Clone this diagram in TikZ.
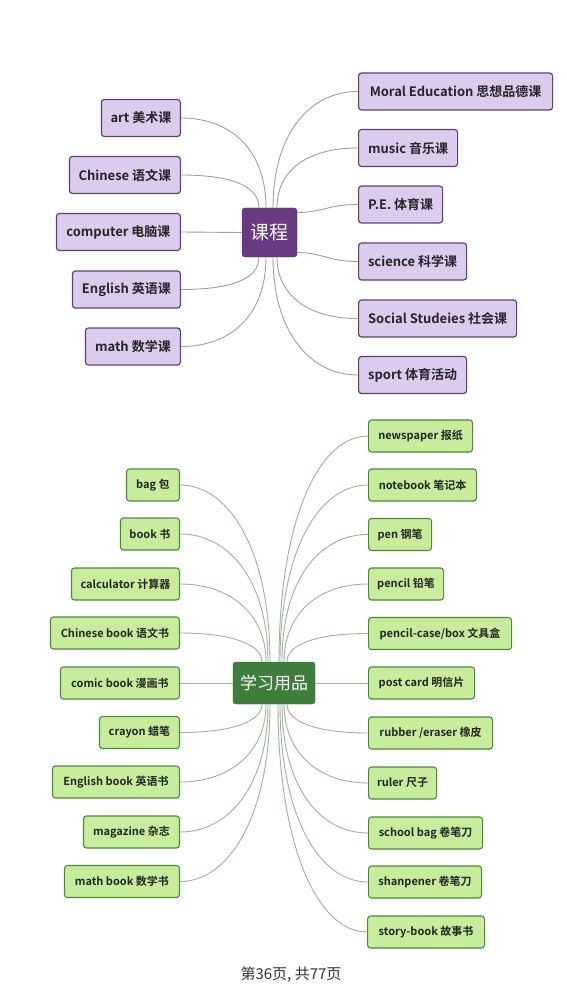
\documentclass[tikz,border=0pt]{standalone}
\usepackage{fontspec}
\newfontfamily\cjk{Noto Sans CJK SC}[BoldFont={Noto Sans CJK SC Bold}]
\usetikzlibrary{calc}
\definecolor{pfill}{HTML}{DCCBEC}
\definecolor{pdraw}{HTML}{5B4272}
\definecolor{pcent}{HTML}{673A82}
\definecolor{gfill}{HTML}{C6EC9C}
\definecolor{gdraw}{HTML}{4C8A3E}
\definecolor{gcent}{HTML}{3F7D3C}
\definecolor{lgray}{HTML}{A0A0A0}
\definecolor{lgreen}{HTML}{9CB29C}
\tikzset{
  pbox/.style={draw=pdraw,fill=pfill,line width=1.2pt,rounded corners=3pt,minimum height=37pt,inner sep=0pt,font=\cjk\bfseries\fontsize{13}{15}\selectfont,text=black!85},
  gbox/.style={draw=gdraw,fill=gfill,line width=1.1pt,rounded corners=3pt,minimum height=32pt,inner sep=0pt,font=\cjk\bfseries\fontsize{11}{13}\selectfont,text=black!85},
  conn/.style={draw=lgray,line width=0.9pt},
  gconn/.style={draw=lgreen,line width=0.9pt},
}
\newcommand\mmlink[6]{\draw[#1] (#2) .. controls +(#3) and +(#4) .. ($(#5)+(#6)$);}
\begin{document}
\begin{tikzpicture}[x=1pt,y=-1pt]
\useasboundingbox[fill=white] (0,0) rectangle (566,1008);
% ---- top mind map
\node[fill=pcent,draw=pcent!80!black,rounded corners=3pt,minimum width=55pt,minimum height=49pt,inner sep=0pt,text=white,font=\cjk\fontsize{19}{21}\selectfont] (k) at (269.5,232.5) {课程};
\node[pbox,anchor=east,minimum width=79pt] (art) at (181,118) {art 美术课};
\node[pbox,anchor=east,minimum width=111pt] (chi) at (181,175) {Chinese 语文课};
\node[pbox,anchor=east,minimum width=124pt] (com) at (181,232) {computer 电脑课};
\node[pbox,anchor=east,minimum width=108pt] (eng) at (181,289.5) {English 英语课};
\node[pbox,anchor=east,minimum width=95pt] (mat) at (181,346.5) {math 数学课};
\node[pbox,anchor=west,minimum width=194pt] (mor) at (358,91.5) {Moral Education 思想品德课};
\node[pbox,anchor=west,minimum width=99pt] (mus) at (358,148) {music 音乐课};
\node[pbox,anchor=west,minimum width=84pt] (pe) at (358,204.5) {P.E. 体育课};
\node[pbox,anchor=west,minimum width=108pt] (sci) at (358,261.5) {science 科学课};
\node[pbox,anchor=west,minimum width=158pt] (soc) at (358,318.5) {Social Studeies 社会课};
\node[pbox,anchor=west,minimum width=108pt] (spo) at (358,375) {sport 体育活动};
\mmlink{conn}{art.east}{50,0}{0,-58}{k.north}{-3.5,0}
\mmlink{conn}{chi.east}{50,0}{0,-22}{k.north}{-10.5,0}
\draw[conn] (com.east) -- (k.west);
\mmlink{conn}{eng.east}{50,0}{0,22}{k.south}{-10.5,0}
\mmlink{conn}{mat.east}{50,0}{0,58}{k.south}{-3.5,0}
\mmlink{conn}{mor.west}{-50,0}{0,-72}{k.north}{3.5,0}
\mmlink{conn}{mus.west}{-50,0}{0,-38}{k.north}{7.5,0}
\mmlink{conn}{pe.west}{-30,0}{25,0}{k.east}{0,-20}
\mmlink{conn}{sci.west}{-30,0}{25,0}{k.east}{0,20}
\mmlink{conn}{soc.west}{-50,0}{0,38}{k.south}{7.5,0}
\mmlink{conn}{spo.west}{-50,0}{0,72}{k.south}{3.5,0}
% ---- bottom mind map
\node[fill=gcent,draw=gcent!80!black,rounded corners=3pt,minimum width=82pt,minimum height=42pt,inner sep=0pt,text=white,font=\cjk\fontsize{17}{19}\selectfont] (g) at (274,683) {学习用品};
\node[gbox,anchor=east,minimum width=53pt] (bag) at (180,485) {bag 包};
\node[gbox,anchor=east,minimum width=59pt] (boo) at (180,534) {book 书};
\node[gbox,anchor=east,minimum width=108pt] (cal) at (180,584) {calculator 计算器};
\node[gbox,anchor=east,minimum width=129pt] (chb) at (180,633) {Chinese book 语文书};
\node[gbox,anchor=east,minimum width=119pt] (cob) at (180,683) {comic book 漫画书};
\node[gbox,anchor=east,minimum width=80pt] (cra) at (180,732.5) {crayon 蜡笔};
\node[gbox,anchor=east,minimum width=127pt] (enb) at (180,782) {English book 英语书};
\node[gbox,anchor=east,minimum width=96pt] (mag) at (180,832) {magazine 杂志};
\node[gbox,anchor=east,minimum width=115pt] (mab) at (180,881.5) {math book 数学书};
\node[gbox,anchor=west,minimum width=104pt] (new) at (368,436) {newspaper 报纸};
\node[gbox,anchor=west,minimum width=108pt] (not) at (368,485) {notebook 笔记本};
\node[gbox,anchor=west,minimum width=63pt] (pen) at (368,534.5) {pen 钢笔};
\node[gbox,anchor=west,minimum width=75pt] (pec) at (368,584) {pencil 铅笔};
\node[gbox,anchor=west,minimum width=143pt] (pcb) at (368,633.5) {pencil-case/box 文具盒};
\node[gbox,anchor=west,minimum width=106pt] (pos) at (368,683) {post card 明信片};
\node[gbox,anchor=west,minimum width=124pt] (rub) at (368,733) {rubber /eraser 橡皮};
\node[gbox,anchor=west,minimum width=68pt] (rul) at (368,783) {ruler 尺子};
\node[gbox,anchor=west,minimum width=114pt] (scb) at (368,833) {school bag 卷笔刀};
\node[gbox,anchor=west,minimum width=113pt] (sha) at (368,882) {shanpener 卷笔刀};
\node[gbox,anchor=west,minimum width=117pt] (sto) at (367,932) {story-book 故事书};
\mmlink{gconn}{bag.east}{50,0}{0,-110}{g.north}{-4,0}
\mmlink{gconn}{boo.east}{50,0}{0,-80}{g.north}{-6,0}
\mmlink{gconn}{cal.east}{50,0}{0,-48}{g.north}{-8,0}
\mmlink{gconn}{chb.east}{50,0}{0,-18}{g.north}{-12,0}
\draw[gconn] (cob.east) -- (g.west);
\mmlink{gconn}{cra.east}{50,0}{0,18}{g.south}{-12,0}
\mmlink{gconn}{enb.east}{50,0}{0,48}{g.south}{-8,0}
\mmlink{gconn}{mag.east}{50,0}{0,80}{g.south}{-6,0}
\mmlink{gconn}{mab.east}{50,0}{0,110}{g.south}{-4,0}
\mmlink{gconn}{new.west}{-50,0}{0,-140}{g.north}{5,0}
\mmlink{gconn}{not.west}{-50,0}{0,-110}{g.north}{6,0}
\mmlink{gconn}{pen.west}{-50,0}{0,-80}{g.north}{8,0}
\mmlink{gconn}{pec.west}{-50,0}{0,-48}{g.north}{10,0}
\mmlink{gconn}{pcb.west}{-50,0}{0,-18}{g.north}{13,0}
\draw[gconn] (pos.west) -- (g.east);
\mmlink{gconn}{rub.west}{-50,0}{0,18}{g.south}{13,0}
\mmlink{gconn}{rul.west}{-50,0}{0,48}{g.south}{10,0}
\mmlink{gconn}{scb.west}{-50,0}{0,80}{g.south}{8,0}
\mmlink{gconn}{sha.west}{-50,0}{0,110}{g.south}{6,0}
\mmlink{gconn}{sto.west}{-50,0}{0,140}{g.south}{4,0}
% ---- footer
\node[font=\cjk\fontsize{15}{17}\selectfont,text=black!80] (foot) at (291,975) {第36页, 共77页};
\end{tikzpicture}
\end{document}
